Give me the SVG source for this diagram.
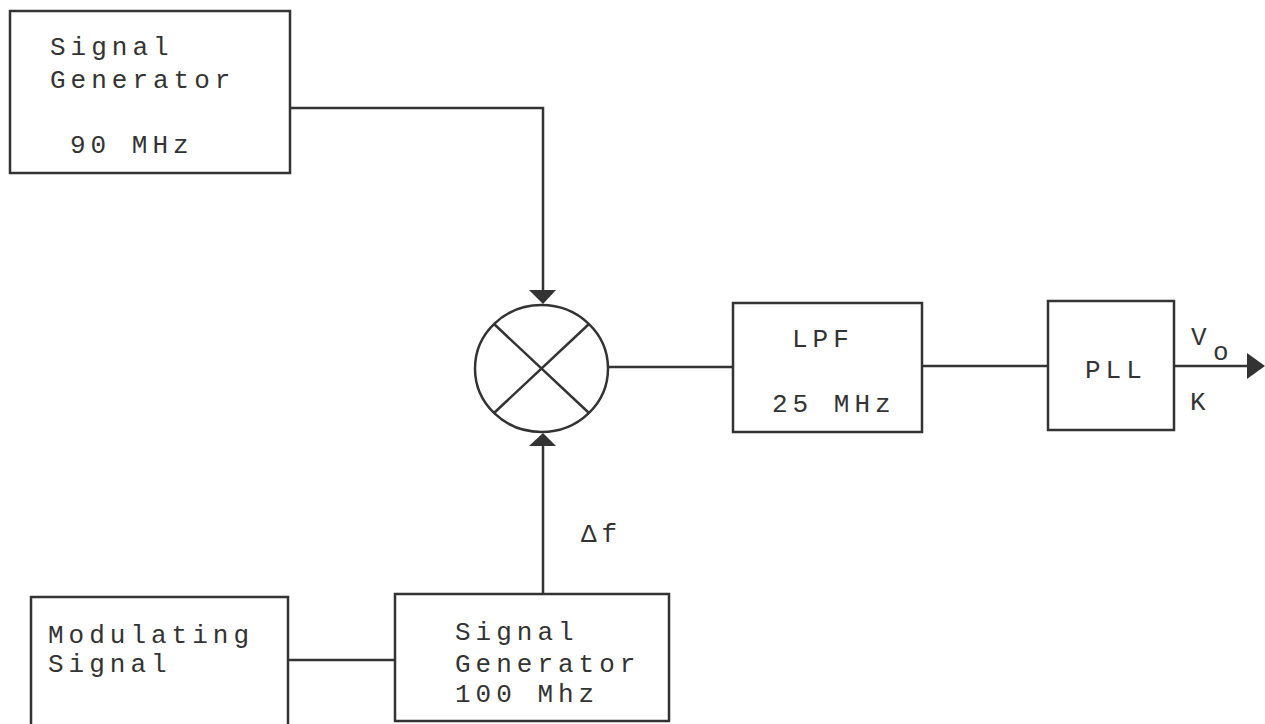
<svg xmlns="http://www.w3.org/2000/svg" width="1265" height="724" viewBox="0 0 1265 724">
<style>
.box{fill:none;stroke:#333;stroke-width:2.5}
.ln{fill:none;stroke:#333;stroke-width:2.5}
.ah{fill:#333;stroke:none}
text{font-family:"Liberation Mono","Courier New",monospace;font-size:26px;letter-spacing:5px;fill:#333}
</style>
<rect width="1265" height="724" fill="#fff"/>
<g id="connectors">
<polyline class="ln" points="290,108 543,108 543,292"/>
<polygon class="ah" points="529,290 556,290 543,304"/>
<line class="ln" x1="543" y1="594" x2="543" y2="446"/>
<polygon class="ah" points="529,446 556,446 543,433"/>
<line class="ln" x1="608" y1="367" x2="733" y2="367"/>
<line class="ln" x1="922" y1="366" x2="1048" y2="366"/>
<line class="ln" x1="1174" y1="366" x2="1250" y2="366"/>
<polygon class="ah" points="1247,353 1265,366 1247,379"/>
<line class="ln" x1="288" y1="660" x2="395" y2="660"/>
<text x="581" y="542">Δf</text>
<text x="1191" y="345">V</text>
<text x="1213" y="360">o</text>
<text x="1190" y="410">K</text>
</g>
<g id="sg90">
<rect class="box" x="10" y="11" width="280" height="162"/>
<text x="50" y="55">Signal</text>
<text x="50" y="88">Generator</text>
<text x="70" y="153">90 MHz</text>
</g>
<g id="mixer">
<ellipse class="box" cx="541.5" cy="368.5" rx="66.5" ry="63.5"/>
<line class="ln" x1="494" y1="324" x2="589" y2="413"/>
<line class="ln" x1="589" y1="324" x2="494" y2="413"/>
</g>
<g id="lpf">
<rect class="box" x="733" y="303" width="189" height="129"/>
<text x="792" y="347">LPF</text>
<text x="772" y="412">25 MHz</text>
</g>
<g id="pll">
<rect class="box" x="1048" y="301" width="126" height="129"/>
<text x="1085" y="378">PLL</text>
</g>
<g id="mod">
<path class="box" d="M31,726 V597 H288 V726"/>
<text x="48" y="643">Modulating</text>
<text x="48" y="672">Signal</text>
</g>
<g id="sg100">
<rect class="box" x="395" y="594" width="274" height="127"/>
<text x="455" y="640">Signal</text>
<text x="455" y="672">Generator</text>
<text x="455" y="702">100 Mhz</text>
</g>
</svg>
